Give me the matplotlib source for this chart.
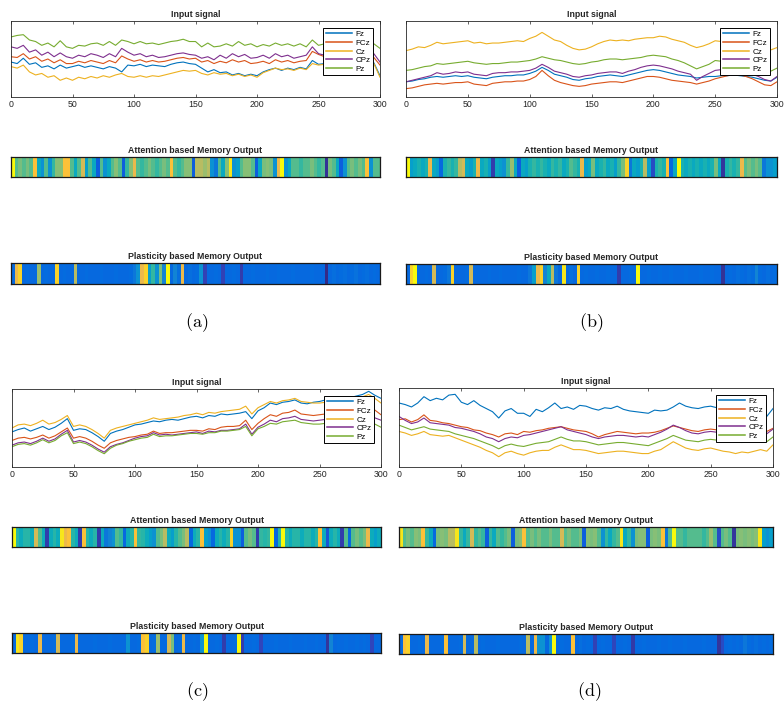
import numpy as np
import matplotlib
matplotlib.use('Agg')
import matplotlib.pyplot as plt
from matplotlib.colors import LinearSegmentedColormap

plt.rcParams['font.family'] = ['Liberation Sans', 'DejaVu Sans']
plt.rcParams['mathtext.fontset'] = 'cm'

channels = ['Fz', 'FCz', 'Cz', 'CPz', 'Pz']
channel_colors = ['#0072BD', '#D95319', '#EDB120', '#7E2F8E', '#77AC30']
samples = list(range(0, 301, 5))
xticks = [0, 50, 100, 150, 200, 250, 300]
panel_labels = ['(a)', '(b)', '(c)', '(d)']

# ---------------- panel (a) signals ----------------
a_Fz = [46, 44, 51, 43, 45, 39, 41, 37, 42, 38,
        40, 42, 39, 41, 39, 37, 40, 38, 33, 42,
        41, 43, 40, 42, 41, 40, 43, 45, 46, 44,
        43, 38, 33, 36, 32, 33, 29, 31, 28, 30,
        28, 33, 36, 38, 35, 38, 36, 39, 37, 48,
        43, 44, 42, 45, 43, 46, 44, 47, 50, 45, 28]
a_FCz = [53, 52, 57, 50, 53, 47, 50, 45, 49, 44,
         44, 47, 45, 48, 46, 44, 48, 45, 54, 50,
         47, 49, 46, 48, 46, 47, 49, 51, 52, 50,
         51, 46, 48, 44, 47, 45, 49, 46, 48, 44,
         45, 47, 44, 49, 46, 48, 45, 47, 48, 60,
         56, 53, 51, 54, 52, 55, 53, 56, 58, 52, 42]
a_Cz = [40, 38, 42, 33, 29, 31, 26, 28, 22, 25,
        22, 26, 24, 27, 25, 28, 26, 29, 31, 27,
        26, 28, 26, 28, 27, 29, 31, 33, 35, 34,
        35, 31, 29, 32, 30, 31, 28, 30, 27, 29,
        26, 32, 35, 38, 36, 37, 35, 38, 36, 44,
        42, 43, 41, 44, 42, 45, 43, 46, 48, 44, 26]
a_CPz = [66, 64, 68, 59, 62, 55, 59, 53, 58, 53,
         51, 55, 53, 57, 55, 52, 57, 53, 64, 59,
         55, 57, 53, 55, 52, 53, 55, 57, 58, 56,
         55, 51, 53, 49, 55, 51, 57, 53, 56, 51,
         52, 55, 51, 57, 53, 55, 51, 53, 55, 66,
         57, 55, 53, 56, 54, 57, 55, 58, 62, 57, 46]
a_Pz = [79, 81, 82, 75, 73, 68, 71, 66, 74, 66,
        64, 68, 67, 70, 71, 68, 73, 68, 75, 73,
        70, 73, 70, 71, 69, 71, 73, 74, 76, 73,
        73, 66, 71, 66, 67, 70, 67, 73, 68, 70,
        66, 69, 67, 71, 68, 70, 67, 70, 66, 75,
        68, 70, 66, 69, 67, 70, 68, 72, 76, 70, 64]

# ---------------- panel (b) signals ----------------
b_Fz = [20, 21, 23, 24, 26, 27, 26, 27, 28, 27,
        28, 26, 25, 24, 26, 27, 28, 28, 29, 29,
        31, 34, 39, 35, 30, 28, 26, 23, 22, 24,
        25, 27, 28, 29, 28, 27, 29, 31, 33, 35,
        36, 35, 33, 31, 29, 28, 27, 25, 26, 27,
        27, 28, 28, 29, 28, 27, 26, 24, 22, 21, 26]
b_FCz = [11, 12, 14, 16, 17, 18, 17, 18, 19, 19,
         20, 17, 16, 15, 18, 19, 20, 20, 21, 21,
         23, 27, 35, 28, 22, 19, 17, 15, 14, 15,
         17, 18, 19, 20, 20, 19, 21, 23, 25, 27,
         27, 26, 24, 22, 21, 20, 19, 17, 19, 21,
         24, 26, 28, 30, 29, 27, 24, 20, 16, 15, 20]
b_Cz = [61, 63, 66, 65, 68, 72, 70, 71, 72, 73,
        74, 71, 72, 70, 71, 71, 72, 73, 74, 73,
        77, 80, 85, 80, 75, 73, 68, 64, 62, 63,
        66, 70, 73, 75, 74, 75, 74, 76, 77, 78,
        78, 80, 79, 76, 74, 72, 68, 65, 67, 70,
        74, 73, 75, 74, 72, 70, 68, 66, 64, 62, 65]
b_CPz = [20, 22, 24, 26, 28, 32, 30, 31, 33, 32,
         33, 30, 29, 28, 31, 32, 32, 33, 33, 34,
         35, 38, 43, 39, 34, 32, 30, 27, 26, 28,
         29, 31, 32, 33, 33, 31, 34, 36, 39, 41,
         42, 41, 39, 37, 34, 32, 30, 22, 27, 31,
         35, 36, 37, 38, 36, 33, 30, 27, 23, 21, 27]
b_Pz = [35, 36, 38, 40, 41, 44, 43, 44, 45, 46,
        47, 45, 44, 43, 44, 44, 45, 46, 46, 47,
        48, 50, 53, 51, 49, 48, 46, 44, 43, 44,
        46, 47, 49, 50, 50, 49, 50, 51, 52, 54,
        55, 54, 53, 50, 48, 45, 41, 37, 40, 43,
        48, 47, 49, 48, 46, 44, 42, 40, 36, 34, 38]

# ---------------- panel (c) signals ----------------
c_Fz = [45, 48, 50, 46, 49, 52, 48, 51, 56, 62,
        47, 49, 48, 44, 39, 33, 43, 46, 48, 51,
        54, 55, 57, 59, 58, 60, 61, 60, 62, 64,
        65, 63, 66, 65, 68, 67, 68, 69, 71, 62,
        72, 76, 82, 80, 83, 84, 86, 82, 81, 83,
        84, 86, 88, 90, 88, 89, 91, 93, 97, 92, 88]
c_FCz = [34, 37, 38, 36, 38, 41, 37, 40, 45, 50,
         37, 39, 37, 33, 28, 24, 31, 34, 36, 38,
         39, 41, 42, 46, 43, 44, 44, 45, 46, 47,
         47, 46, 49, 48, 51, 52, 52, 53, 60, 48,
         56, 62, 67, 65, 69, 70, 73, 68, 67, 66,
         67, 68, 70, 71, 70, 72, 74, 76, 78, 73, 67]
c_Cz = [50, 54, 55, 53, 56, 60, 55, 57, 61, 66,
        52, 54, 52, 48, 43, 37, 47, 50, 52, 54,
        56, 58, 60, 63, 61, 62, 63, 64, 66, 67,
        69, 67, 70, 69, 71, 72, 73, 74, 78, 68,
        76, 80, 84, 82, 85, 86, 88, 84, 83, 82,
        82, 83, 85, 86, 84, 86, 88, 90, 93, 88, 82]
c_CPz = [28, 31, 32, 30, 33, 37, 33, 36, 42, 47,
         32, 34, 32, 28, 23, 19, 26, 29, 31, 34,
         37, 39, 40, 44, 41, 42, 41, 42, 43, 44,
         45, 43, 46, 45, 47, 47, 48, 49, 55, 42,
         51, 55, 60, 58, 62, 63, 65, 61, 60, 59,
         60, 61, 62, 63, 62, 64, 65, 66, 67, 63, 60]
c_Pz = [26, 29, 30, 28, 31, 35, 31, 34, 40, 44,
        30, 32, 30, 26, 21, 17, 24, 28, 30, 33,
        35, 37, 38, 42, 39, 40, 40, 41, 42, 43,
        43, 42, 44, 44, 46, 46, 47, 48, 52, 40,
        49, 52, 56, 55, 58, 59, 60, 57, 56, 55,
        55, 56, 57, 58, 57, 58, 59, 60, 60, 55, 51]

# ---------------- panel (d) signals ----------------
d_Fz = [81, 79, 76, 81, 89, 84, 87, 85, 91, 92,
        82, 79, 84, 78, 74, 70, 62, 71, 74, 68,
        68, 64, 73, 70, 75, 81, 74, 76, 73, 78,
        77, 74, 72, 75, 74, 77, 73, 71, 70, 69,
        68, 72, 71, 72, 76, 81, 77, 75, 74, 76,
        77, 75, 74, 76, 73, 75, 72, 74, 70, 64, 74]
d_FCz = [60, 61, 57, 60, 66, 59, 58, 56, 55, 53,
         51, 50, 47, 46, 43, 41, 38, 42, 43, 41,
         45, 44, 46, 47, 49, 50, 51, 49, 47, 46,
         45, 42, 38, 41, 43, 45, 44, 43, 42, 43,
         43, 44, 46, 49, 52, 50, 48, 46, 45, 47,
         48, 47, 46, 48, 47, 45, 46, 47, 48, 45, 49]
d_Cz = [45, 43, 40, 42, 45, 41, 40, 39, 40, 37,
        34, 31, 28, 25, 21, 18, 13, 18, 20, 17,
        15, 18, 20, 21, 21, 25, 28, 25, 22, 22,
        21, 19, 17, 18, 19, 20, 20, 19, 18, 17,
        17, 20, 22, 27, 32, 28, 24, 22, 21, 23,
        24, 22, 20, 19, 17, 19, 18, 20, 22, 20, 28]
d_CPz = [64, 59, 55, 57, 62, 56, 55, 54, 53, 50,
         49, 47, 45, 42, 38, 36, 32, 36, 38, 37,
         40, 41, 43, 45, 47, 49, 51, 47, 45, 43,
         41, 38, 36, 38, 39, 40, 40, 39, 38, 39,
         38, 41, 44, 48, 53, 50, 46, 43, 42, 44,
         45, 44, 43, 45, 44, 42, 43, 44, 46, 42, 48]
d_Pz = [53, 50, 47, 49, 51, 48, 47, 46, 45, 42,
        40, 38, 36, 33, 30, 27, 23, 27, 29, 27,
        26, 28, 30, 31, 32, 35, 38, 35, 33, 33,
        32, 30, 28, 29, 30, 31, 31, 30, 29, 28,
        27, 30, 33, 36, 40, 37, 34, 33, 32, 34,
        35, 34, 33, 34, 33, 31, 32, 33, 35, 32, 38]

# ---------------- memory outputs ----------------
att_a = [1.0, 0.55, 0.6, 0.55, 0.6, 0.55, 0.85, 0.4, 0.3, 0.55,
         0.3, 0.5, 0.62, 0.62, 0.85, 0.85, 0.55, 0.4, 0.55, 0.75,
         0.35, 0.55, 0.4, 0.12, 0.55, 0.3, 0.4, 0.55, 0.62, 0.55,
         0.12, 0.5, 0.62, 0.8, 0.55, 0.5, 0.55, 0.6, 0.55, 0.5,
         0.55, 0.6, 0.55, 0.85, 0.55, 0.5, 0.55, 0.62, 0.62, 0.12,
         0.7, 0.7, 0.65, 0.7, 0.3, 0.2, 0.55, 0.4, 0.62, 0.95,
         0.3, 0.35, 0.55, 0.62, 0.62, 0.55, 0.12, 0.4, 0.6, 0.62,
         0.6, 0.3, 0.8, 1.0, 0.3, 0.4, 0.55, 0.55, 0.5, 0.55,
         0.55, 0.6, 0.55, 0.5, 0.55, 0.02, 0.6, 0.55, 0.4, 0.12,
         0.3, 0.55, 0.6, 0.55, 0.6, 0.55, 0.85, 0.3, 0.55, 0.55]
pla_a = [0.15, 0.8, 0.9, 0.15, 0.16, 0.15, 0.15, 0.65, 0.15, 0.16,
         0.15, 0.15, 0.9, 0.15, 0.16, 0.15, 0.15, 0.7, 0.15, 0.15,
         0.16, 0.15, 0.15, 0.15, 0.16, 0.15, 0.15, 0.15, 0.16, 0.15,
         0.15, 0.15, 0.16, 0.2, 0.3, 0.8, 0.9, 0.35, 0.5, 0.3,
         0.6, 0.25, 1.0, 0.15, 0.25, 0.17, 0.8, 0.15, 0.17, 0.15,
         0.16, 0.3, 0.06, 0.15, 0.15, 0.16, 0.15, 0.06, 0.15, 0.15,
         0.16, 0.15, 0.05, 0.15, 0.15, 0.16, 0.15, 0.15, 0.15, 0.16,
         0.15, 0.15, 0.16, 0.15, 0.15, 0.15, 0.16, 0.15, 0.15, 0.15,
         0.15, 0.16, 0.15, 0.15, 0.15, 0.0, 0.15, 0.17, 0.15, 0.16,
         0.17, 0.15, 0.16, 0.18, 0.15, 0.16, 0.17, 0.15, 0.16, 0.15]
att_b = [1.0, 0.35, 0.4, 0.45, 0.4, 0.45, 0.8, 0.4, 0.35, 0.15,
         0.45, 0.5, 0.45, 0.5, 0.7, 0.75, 0.4, 0.35, 0.45, 0.8,
         0.4, 0.45, 0.35, 0.05, 0.4, 0.35, 0.3, 0.5, 0.65, 0.4,
         0.12, 0.4, 0.35, 0.45, 0.5, 0.45, 0.5, 0.45, 0.4, 0.5,
         0.45, 0.5, 0.4, 0.45, 0.55, 0.5, 0.45, 0.8, 0.35, 0.4,
         0.6, 0.4, 0.45, 0.5, 0.4, 0.45, 0.35, 0.5, 0.6, 0.9,
         0.2, 0.4, 0.35, 0.45, 0.7, 0.35, 0.08, 0.45, 0.5, 0.45,
         0.85, 0.15, 0.4, 1.0, 0.45, 0.4, 0.45, 0.4, 0.45, 0.4,
         0.45, 0.4, 0.45, 0.6, 0.4, 0.03, 0.45, 0.5, 0.45, 0.5,
         0.8, 0.55, 0.6, 0.55, 0.6, 0.55, 0.2, 0.3, 0.3, 0.35]
pla_b = [0.15, 0.9, 1.0, 0.15, 0.15, 0.16, 0.15, 0.75, 0.15, 0.15,
         0.16, 0.2, 0.9, 0.15, 0.15, 0.15, 0.16, 0.75, 0.15, 0.15,
         0.15, 0.15, 0.16, 0.15, 0.15, 0.16, 0.15, 0.15, 0.15, 0.15,
         0.16, 0.15, 0.15, 0.2, 0.35, 0.8, 0.9, 0.25, 0.4, 0.7,
         0.2, 0.15, 0.95, 0.15, 0.17, 0.15, 0.9, 0.15, 0.16, 0.15,
         0.15, 0.16, 0.15, 0.15, 0.16, 0.15, 0.15, 0.05, 0.15, 0.15,
         0.16, 0.15, 1.0, 0.15, 0.15, 0.16, 0.15, 0.15, 0.16, 0.15,
         0.15, 0.16, 0.15, 0.15, 0.15, 0.16, 0.15, 0.15, 0.15, 0.16,
         0.15, 0.15, 0.16, 0.15, 0.15, 0.02, 0.15, 0.16, 0.15, 0.17,
         0.16, 0.15, 0.17, 0.16, 0.25, 0.16, 0.15, 0.17, 0.15, 0.16]
att_c = [1.0, 0.48, 0.42, 0.48, 0.48, 0.42, 0.75, 0.55, 0.42, 0.05,
         0.42, 0.48, 0.42, 0.95, 0.8, 0.85, 0.48, 0.42, 0.05, 0.85,
         0.48, 0.42, 0.48, 0.05, 0.42, 0.2, 0.25, 0.3, 0.55, 0.5,
         0.15, 0.42, 0.48, 0.85, 0.5, 0.48, 0.42, 0.35, 0.3, 0.55,
         0.6, 0.7, 0.42, 0.35, 0.48, 0.55, 0.6, 0.7, 0.15, 0.42,
         0.48, 0.85, 0.35, 0.3, 0.15, 0.42, 0.48, 0.42, 0.48, 0.9,
         0.3, 0.3, 0.12, 0.55, 0.6, 0.55, 0.05, 0.5, 0.48, 0.5,
         1.0, 0.15, 0.48, 1.0, 0.48, 0.42, 0.48, 0.48, 0.42, 0.48,
         0.48, 0.42, 0.48, 0.85, 0.42, 0.1, 0.42, 0.48, 0.42, 0.05,
         0.55, 0.15, 0.55, 0.6, 0.55, 0.6, 0.8, 0.42, 0.35, 0.42]
pla_c = [0.15, 0.95, 0.9, 0.15, 0.15, 0.16, 0.15, 0.8, 0.15, 0.15,
         0.15, 0.16, 0.75, 0.15, 0.15, 0.15, 0.16, 0.8, 0.15, 0.15,
         0.15, 0.15, 0.16, 0.15, 0.15, 0.15, 0.16, 0.15, 0.15, 0.15,
         0.15, 0.3, 0.15, 0.15, 0.16, 0.85, 0.9, 0.15, 0.16, 0.65,
         0.15, 0.15, 0.75, 0.6, 0.15, 0.16, 0.8, 0.15, 0.15, 0.16,
         0.15, 0.3, 1.0, 0.15, 0.15, 0.16, 0.15, 0.05, 0.15, 0.15,
         0.16, 1.0, 0.05, 0.15, 0.15, 0.16, 0.15, 0.07, 0.15, 0.15,
         0.15, 0.16, 0.15, 0.15, 0.15, 0.16, 0.15, 0.15, 0.15, 0.16,
         0.15, 0.15, 0.16, 0.15, 0.15, 0.03, 0.25, 0.15, 0.16, 0.15,
         0.16, 0.15, 0.15, 0.16, 0.15, 0.16, 0.15, 0.07, 0.15, 0.15]
att_d = [0.95, 0.55, 0.6, 0.55, 0.62, 0.6, 0.85, 0.5, 0.4, 0.15,
         0.6, 0.62, 0.6, 0.7, 0.7, 0.95, 0.5, 0.4, 0.5, 0.75,
         0.5, 0.55, 0.5, 0.12, 0.5, 0.4, 0.55, 0.5, 0.55, 0.6,
         0.12, 0.6, 0.62, 0.85, 0.55, 0.6, 0.55, 0.6, 0.55, 0.55,
         0.6, 0.55, 0.55, 0.75, 0.55, 0.6, 0.55, 0.55, 0.6, 0.12,
         0.62, 0.6, 0.62, 0.55, 0.3, 0.5, 0.4, 0.5, 0.55, 0.95,
         0.4, 0.5, 0.3, 0.6, 0.62, 0.62, 0.12, 0.6, 0.62, 0.6,
         0.85, 0.2, 0.55, 1.0, 0.55, 0.55, 0.5, 0.55, 0.55, 0.55,
         0.55, 0.5, 0.55, 0.65, 0.55, 0.08, 0.55, 0.6, 0.55, 0.03,
         0.6, 0.62, 0.6, 0.62, 0.6, 0.62, 0.95, 0.35, 0.3, 0.35]
pla_d = [0.15, 0.85, 0.9, 0.15, 0.15, 0.16, 0.15, 0.8, 0.15, 0.15,
         0.15, 0.16, 0.85, 0.15, 0.15, 0.15, 0.16, 0.75, 0.15, 0.15,
         0.7, 0.15, 0.16, 0.15, 0.15, 0.15, 0.16, 0.15, 0.15, 0.15,
         0.15, 0.15, 0.16, 0.15, 0.7, 0.15, 0.8, 0.3, 0.3, 0.15,
         0.3, 1.0, 0.15, 0.16, 0.15, 0.15, 0.85, 0.15, 0.17, 0.15,
         0.16, 0.15, 0.06, 0.15, 0.16, 0.15, 0.15, 0.07, 0.15, 0.15,
         0.16, 0.15, 0.04, 0.15, 0.15, 0.16, 0.15, 0.15, 0.15, 0.16,
         0.15, 0.15, 0.16, 0.15, 0.15, 0.15, 0.16, 0.15, 0.15, 0.15,
         0.15, 0.16, 0.15, 0.15, 0.15, 0.03, 0.08, 0.15, 0.16, 0.15,
         0.16, 0.15, 0.2, 0.16, 0.15, 0.17, 0.15, 0.16, 0.15, 0.16]

# ---------------- parula-like colormap ----------------
parula_anchors = [
    (0, (0.2081, 0.1663, 0.5292)), (4, (0.1959, 0.2645, 0.7279)),
    (7, (0.0591, 0.3598, 0.8683)), (10, (0.0165, 0.4266, 0.8786)),
    (15, (0.0779, 0.5040, 0.8384)), (19, (0.0488, 0.5772, 0.8228)),
    (23, (0.0231, 0.6418, 0.7913)), (27, (0.0590, 0.6838, 0.7254)),
    (31, (0.1801, 0.7177, 0.6424)), (35, (0.3482, 0.7424, 0.5473)),
    (39, (0.5300, 0.7491, 0.4661)), (43, (0.6834, 0.7435, 0.4044)),
    (47, (0.8185, 0.7327, 0.3498)), (51, (0.9450, 0.7261, 0.2886)),
    (54, (0.9990, 0.7653, 0.2164)), (58, (0.9697, 0.8481, 0.1475)),
    (63, (0.9763, 0.9831, 0.0538))]
parula = LinearSegmentedColormap.from_list(
    'parula', [(i / 63, c) for i, c in parula_anchors])

signals = [
    [a_Fz, a_FCz, a_Cz, a_CPz, a_Pz],
    [b_Fz, b_FCz, b_Cz, b_CPz, b_Pz],
    [c_Fz, c_FCz, c_Cz, c_CPz, c_Pz],
    [d_Fz, d_FCz, d_Cz, d_CPz, d_Pz],
]
attention = [att_a, att_b, att_c, att_d]
plasticity = [pla_a, pla_b, pla_c, pla_d]

W, H = 784, 711
fig = plt.figure(figsize=(W / 100, H / 100), dpi=100)

layout = [
    dict(l=11, r=380, sig=(21, 97), att=(157, 177), pla=(263, 284), lab=(197, 323)),
    dict(l=406, r=777, sig=(21, 97), att=(157, 177), pla=(264, 284), lab=(591, 323)),
    dict(l=12, r=381, sig=(389, 467), att=(527, 547), pla=(633, 653), lab=(197, 692)),
    dict(l=399, r=773, sig=(388, 467), att=(527, 547), pla=(634, 654), lab=(589, 692)),
]


def rect(l, r, t, b):
    return [l / W, 1 - b / H, (r - l) / W, (b - t) / H]


title_kw = dict(fontsize=6.3, fontweight='bold', color='#262626', pad=3)

for p in range(4):
    L = layout[p]
    # signal plot
    ax = fig.add_axes(rect(L['l'], L['r'], *L['sig']))
    for name, col, vals in zip(channels, channel_colors, signals[p]):
        ax.plot(samples, vals, color=col, lw=0.8, label=name)
    ax.set_xlim(0, 300)
    ax.set_ylim(0, 100)
    ax.set_xticks(xticks)
    ax.set_yticks([])
    ax.tick_params(axis='x', direction='in', top=True, length=2.5, width=0.5,
                   labelsize=6.3, labelcolor='#262626', pad=2.5, color='#262626')
    for s in ax.spines.values():
        s.set_linewidth(0.6)
        s.set_color('#262626')
    ax.set_title('Input signal', **title_kw)
    leg = ax.legend(loc='upper right', fontsize=5.8, handlelength=3.3,
                    handletextpad=0.4, labelspacing=0.12, borderpad=0.3,
                    borderaxespad=0.9, fancybox=False, framealpha=1)
    leg.get_frame().set_edgecolor('black')
    leg.get_frame().set_linewidth(0.7)
    for ln in leg.get_lines():
        ln.set_linewidth(1.1)

    # memory strips
    for key, data, ttl in [('att', attention[p], 'Attention based Memory Output'),
                           ('pla', plasticity[p], 'Plasticity based Memory Output')]:
        axs = fig.add_axes(rect(L['l'], L['r'], *L[key]))
        axs.imshow(np.array(data)[None, :], cmap=parula, vmin=0, vmax=1,
                   aspect='auto', interpolation='nearest')
        axs.set_xticks([])
        axs.set_yticks([])
        for s in axs.spines.values():
            s.set_linewidth(0.9)
            s.set_color('#1a1a1a')
        axs.set_title(ttl, **title_kw)

    fig.text(L['lab'][0] / W, 1 - L['lab'][1] / H,
             r'$\mathrm{' + panel_labels[p] + '}$', fontsize=13,
             ha='center', va='center')

fig.savefig('out.png', dpi=100, facecolor='white')
